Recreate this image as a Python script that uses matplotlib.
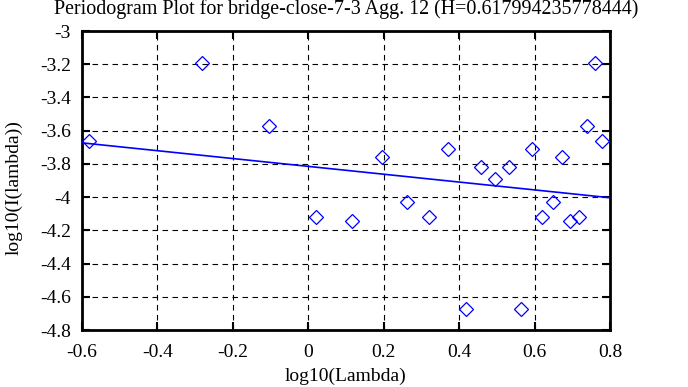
import numpy as np
import matplotlib
matplotlib.use("Agg")
import matplotlib.pyplot as plt

plt.rcParams['font.family'] = ['Liberation Serif', 'DejaVu Serif']

# periodogram points (log10 frequency, log10 power)
log_lambda = [-0.581, -0.282, -0.104, 0.020, 0.117, 0.195, 0.263, 0.320,
              0.370, 0.418, 0.458, 0.495, 0.531, 0.564, 0.594, 0.621,
              0.648, 0.672, 0.694, 0.718, 0.740, 0.761, 0.779]
log_I = [-3.663, -3.193, -3.572, -4.119, -4.146, -3.757, -4.032, -4.119,
         -3.709, -4.673, -3.817, -3.888, -3.817, -4.673, -3.709, -4.119,
         -4.032, -3.757, -4.146, -4.119, -3.570, -3.191, -3.661]

# least squares fit line: slope = 1 - 2H
H = 0.617994235778444
fit_slope = 1 - 2 * H
fit_intercept = -3.815
fit_x = [-0.6, 0.8]

xticks = [-0.6, -0.4, -0.2, 0, 0.2, 0.4, 0.6, 0.8]
yticks = [-3, -3.2, -3.4, -3.6, -3.8, -4, -4.2, -4.4, -4.6, -4.8]

fig = plt.figure(figsize=(6.88, 3.87), dpi=100)
ax = fig.add_axes([82 / 688, 1 - 330 / 387, 528 / 688, 299 / 387])

fx = np.array(fit_x)
ax.plot(fx, fit_intercept + fit_slope * fx, color='#0000ff', lw=1.2, zorder=3)
ax.plot(log_lambda, log_I, ls='none', marker='D', ms=7, mfc='none',
        mec='#0000ff', mew=0.9, zorder=4, clip_on=False)

ax.set_xlim(-0.6, 0.8)
ax.set_ylim(-4.8, -3)
ax.set_xticks(xticks)
ax.set_yticks(yticks)
ax.set_xticklabels(['%g' % t for t in xticks])
ax.set_yticklabels(['%g' % t for t in yticks])
ax.grid(True, color='black', ls=(0, (5, 4)), lw=0.8)
ax.tick_params(direction='in', length=6, width=1.5, top=True, right=True,
               labelsize=14)
ax.tick_params(axis='x', pad=10)
ax.tick_params(axis='y', pad=8)
for s in ax.spines.values():
    s.set_linewidth(2)

ax.set_xlabel('log10(Lambda)', fontsize=14, va='center')
ax.xaxis.set_label_coords(0.5, -46 / 299)
ax.set_ylabel('log10(I(lambda))', fontsize=14, va='center')
ax.yaxis.set_label_coords(-68 / 528, 142 / 299)
fig.text(346.5 / 688, 1 - 9 / 387, 'Periodogram Plot for bridge-close-7-3 Agg. 12 (H=%s)' % repr(H),
         ha='center', va='center', fontsize=14.4)

fig.savefig('out.png', dpi=100)
